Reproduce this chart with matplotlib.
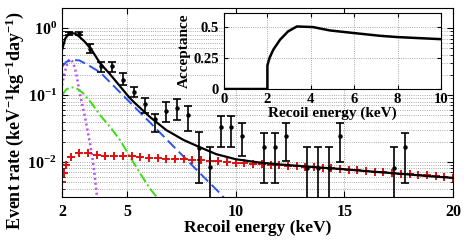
import matplotlib
matplotlib.use("Agg")
import matplotlib.pyplot as plt
import numpy as np

plt.rcParams["font.family"] = "serif"
plt.rcParams["font.serif"] = ["Liberation Serif", "DejaVu Serif"]
plt.rcParams["font.weight"] = "bold"
plt.rcParams["mathtext.fontset"] = "custom"
plt.rcParams["mathtext.rm"] = "Liberation Serif:bold"
plt.rcParams["mathtext.bf"] = "Liberation Serif:bold"
plt.rcParams["mathtext.it"] = "Liberation Serif:bold:italic"

# measured spectrum (points + asymmetric error bars)
energy_data = [2.3, 2.8, 3.3, 3.8, 4.3, 4.8, 5.3, 5.8, 6.3, 6.8, 7.3, 7.8, 8.3,
               8.8, 9.3, 9.8, 10.3, 11.3, 11.8, 12.3, 13.3, 13.8, 14.3, 14.8, 17.3, 17.8]
rate_data = [0.845, 0.83, 0.49, 0.27, 0.27, 0.168, 0.111, 0.073, 0.044, 0.058, 0.064, 0.050, 0.0162,
             0.0084, 0.033, 0.033, 0.0244, 0.0167, 0.0167, 0.0244, 0.0081, 0.0081, 0.0081, 0.0244, 0.0081, 0.0167]
rate_hi = [0.885, 0.87, 0.58, 0.312, 0.31, 0.214, 0.132, 0.090, 0.052, 0.0787, 0.087, 0.0686, 0.028,
           0.0167, 0.0486, 0.0486, 0.038, 0.027, 0.027, 0.038, 0.0167, 0.0167, 0.0167, 0.038, 0.0167, 0.027]
rate_lo = [0.79, 0.78, 0.425, 0.221, 0.22, 0.141, 0.0935, 0.054, 0.028, 0.0395, 0.042, 0.029, 0.00484,
           1e-4, 0.0167, 0.0167, 0.0123, 0.00484, 0.00484, 0.0103, 1e-4, 1e-4, 1e-4, 0.0101, 1e-4, 0.00484]

# total fit (black)
total_e = [2.0, 2.15, 2.35, 2.6, 2.8, 3.05, 3.35, 3.75, 4.2, 4.5, 5.1, 5.3, 6.05, 6.8, 7.6, 8.35,
           9.1, 10.0, 11, 12, 13, 14, 15, 16, 17, 18, 19, 20]
total_r = [0.47, 0.70, 0.85, 0.83, 0.745, 0.626, 0.48, 0.30, 0.207, 0.158, 0.092, 0.079, 0.047, 0.030,
           0.0213, 0.0166, 0.0131, 0.0110, 0.0099, 0.0092, 0.0087, 0.0082, 0.0078, 0.0073, 0.0069,
           0.0065, 0.0061, 0.0058]

# components
blue_e = [2.0, 2.2, 2.5, 2.8, 3.2, 3.6, 3.75, 4.5, 5.27, 6.05, 6.83, 7.6, 8.35, 9.13, 10.0]
blue_r = [0.265, 0.315, 0.334, 0.33, 0.281, 0.235, 0.22, 0.125, 0.070, 0.039, 0.0215, 0.012, 0.0068, 0.0038, 0.0019]

green_e = [2.0, 2.2, 2.43, 2.66, 2.98, 3.37, 3.75, 4.21, 4.67, 5.13, 5.59, 6.05, 6.36, 7.0]
green_r = [0.100, 0.122, 0.131, 0.127, 0.106, 0.075, 0.050, 0.0336, 0.0213, 0.012, 0.0068, 0.0040, 0.0030, 0.0013]

mag_e = [2.0, 2.1, 2.2, 2.3, 2.4, 2.5, 2.6, 2.7, 2.8, 2.9, 3.0, 3.1, 3.2, 3.3, 3.4, 3.5, 3.6, 3.7]
mag_r = [0.14, 0.2, 0.27, 0.33, 0.345, 0.31, 0.25, 0.175, 0.115, 0.080, 0.057, 0.040, 0.027, 0.018,
         0.0115, 0.0065, 0.0032, 0.0015]

red_e = [2.0, 2.1, 2.2, 2.4, 2.8, 3.2, 3.6, 4.0, 4.4, 4.8, 5.2, 5.6, 6.0, 6.4, 6.8, 7.2, 7.6, 8.0,
         8.4, 8.8, 9.2, 9.6, 10.0, 10.4, 10.8, 11.2, 11.6, 12.0, 12.4, 12.8, 13.2, 13.6, 14.0, 14.4,
         14.8, 15.2, 15.6, 16.0, 16.4, 16.8, 17.2, 17.6, 18.0, 18.4, 18.8, 19.2, 19.6, 20.0]
red_r = [0.0050, 0.0068, 0.0090, 0.0120, 0.0136, 0.0134, 0.0127, 0.0124, 0.0124, 0.0123,
         0.0121, 0.0118, 0.0116, 0.0113, 0.0112, 0.0110, 0.0109, 0.0107, 0.0106, 0.0104,
         0.0102, 0.0100, 0.0098, 0.0096, 0.0094, 0.0093, 0.0091, 0.0089, 0.0088, 0.0086,
         0.0085, 0.0083, 0.0082, 0.0080, 0.0078, 0.0076, 0.0075, 0.0073, 0.0072, 0.0070,
         0.0069, 0.0067, 0.0066, 0.0064, 0.0063, 0.0061, 0.0060, 0.0058]

# inset: acceptance
acc_e = [0, 2.0, 2.0, 2.1, 2.27, 2.58, 2.95, 3.36, 3.64, 4.1, 4.88, 5.99, 7.19, 7.97, 8.9, 10.0]
acc_v = [0, 0, 0.19, 0.25, 0.315, 0.395, 0.462, 0.502, 0.50, 0.497, 0.47, 0.449, 0.427, 0.417, 0.409, 0.40]

fig = plt.figure(figsize=(4.67, 2.42), dpi=100)
ax = fig.add_axes([62 / 467, 1 - 197 / 242, 391 / 467, 189 / 242])

ax.plot(mag_e, mag_r, color="#b84cf0", lw=1.8, dashes=(0.8, 1.2))
ax.plot(green_e, green_r, color="#3ddc10", lw=1.4, dashes=(5, 1.6, 1, 1.6))
ax.plot(blue_e, blue_r, color="#2a55f0", lw=1.4, dashes=(5.5, 2.5))
ax.plot(red_e, red_r, ls="none", marker="+", ms=6, mew=1.4, color="#dd1010")
ax.plot(total_e, total_r, color="black", lw=1.6)

rate = np.array(rate_data)
yerr = [rate - np.array(rate_lo), np.array(rate_hi) - rate]
ax.errorbar(energy_data, rate_data, yerr=yerr, fmt="o", ms=2.2, color="black",
            ecolor="black", elinewidth=1.2, capsize=2.6, capthick=1.2)

ax.set_yscale("log")
ax.set_xlim(2, 20)
ax.set_ylim(3e-3, 2)
ax.set_xticks([2, 5, 10, 15, 20])
ax.tick_params(which="both", direction="in", top=True, right=True, labelsize=11.5)
ax.tick_params(which="major", length=4)
ax.tick_params(which="minor", length=2)
ax.tick_params(axis="x", pad=5)
ax.grid(True, which="both", axis="y", ls=":", color="0.55", lw=0.6)
ax.grid(True, which="major", axis="x", ls=":", color="0.55", lw=0.6)
ax.set_xlabel("Recoil energy (keV)", fontsize=12.5, fontweight="bold", labelpad=0)
fig.text(15 / 467, 12 / 242, "Event rate (keV$^{-1}$kg$^{-1}$day$^{-1}$)", rotation=90,
         ha="center", va="bottom", fontsize=13, fontweight="bold")

# inset
ins = fig.add_axes([224 / 467, 1 - 89 / 242, 217 / 467, 76 / 242])
ins.plot(acc_e, acc_v, color="black", lw=1.8)
ins.set_xlim(0, 10)
ins.set_ylim(0, 0.61)
ins.set_xticks([0, 2, 4, 6, 8, 10])
ins.set_yticks([0, 0.25, 0.5])
ins.set_yticklabels(["0", "0.25", "0.5"])
ins.tick_params(direction="in", top=True, right=True, labelsize=10.5, length=3)
ins.tick_params(axis="x", pad=3)
ins.grid(True, ls=":", color="0.55", lw=0.6)
ins.set_xlabel("Recoil energy (keV)", fontsize=11, fontweight="bold", labelpad=0)
ins.set_ylabel("Acceptance", fontsize=11, fontweight="bold", labelpad=2)

fig.savefig("out.png", dpi=100)
